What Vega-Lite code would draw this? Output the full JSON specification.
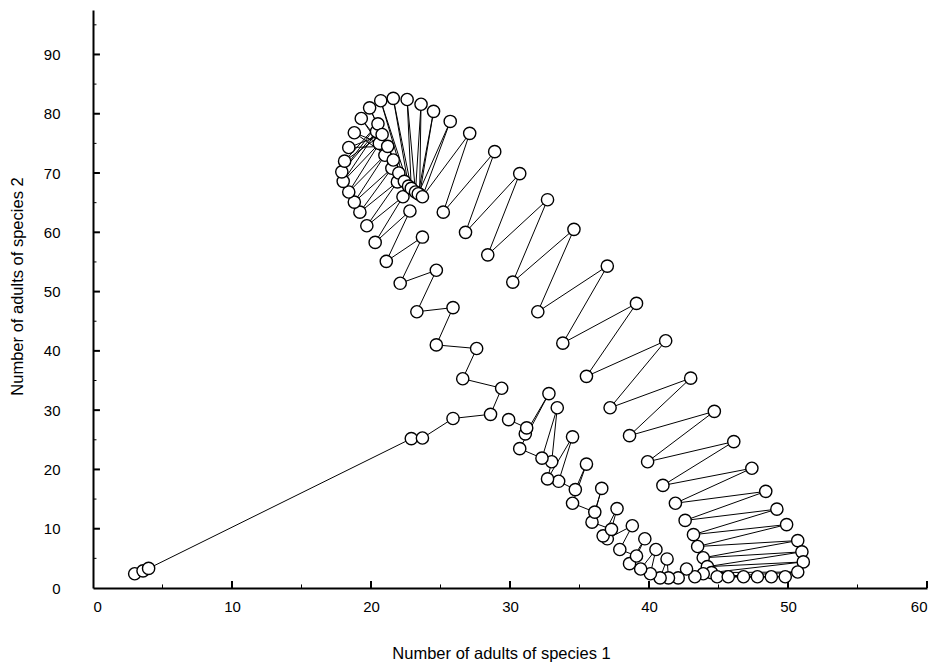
{
  "$schema": "https://vega.github.io/schema/vega-lite/v6.json",
  "autosize": {"type": "none"},
  "width": 834,
  "height": 578,
  "padding": {"left": 93, "top": 10, "right": 15, "bottom": 77},
  "background": "white",
  "config": {
    "view": {"stroke": null},
    "axis": {
      "domainColor": "black", "domainWidth": 2, "ticks": false,
      "grid": false, "labelFont": "Liberation Sans", "labelFontSize": 15,
      "labelColor": "black", "titleFont": "Liberation Sans", "titleFontSize": 16.5,
      "titleFontWeight": "normal", "titleColor": "black"
    }
  },
  "datasets": {
    "traj": [
    {"t":1,"s1":3.0,"s2":2.4},{"t":2,"s1":3.6,"s2":2.9},{"t":3,"s1":4.0,"s2":3.3},
    {"t":4,"s1":22.9,"s2":25.2},{"t":5,"s1":23.7,"s2":25.3},{"t":6,"s1":25.9,"s2":28.6},
    {"t":7,"s1":28.6,"s2":29.3},{"t":8,"s1":29.4,"s2":33.7},{"t":9,"s1":26.6,"s2":35.3},
    {"t":10,"s1":27.6,"s2":40.4},{"t":11,"s1":24.7,"s2":41.0},{"t":12,"s1":25.9,"s2":47.3},
    {"t":13,"s1":23.3,"s2":46.6},{"t":14,"s1":24.7,"s2":53.6},{"t":15,"s1":22.1,"s2":51.4},
    {"t":16,"s1":23.7,"s2":59.2},{"t":17,"s1":21.1,"s2":55.1},{"t":18,"s1":22.8,"s2":63.6},
    {"t":19,"s1":20.3,"s2":58.3},{"t":20,"s1":22.3,"s2":66.0},{"t":21,"s1":19.7,"s2":61.1},
    {"t":22,"s1":21.9,"s2":68.5},{"t":23,"s1":19.2,"s2":63.4},{"t":24,"s1":21.5,"s2":70.8},
    {"t":25,"s1":18.8,"s2":65.1},{"t":26,"s1":21.0,"s2":73.0},{"t":27,"s1":18.4,"s2":66.8},
    {"t":28,"s1":20.6,"s2":75.0},{"t":29,"s1":18.0,"s2":68.6},{"t":30,"s1":20.4,"s2":77.0},
    {"t":31,"s1":17.9,"s2":70.2},{"t":32,"s1":20.5,"s2":78.3},{"t":33,"s1":18.1,"s2":72.0},
    {"t":34,"s1":20.8,"s2":76.5},{"t":35,"s1":18.4,"s2":74.3},{"t":36,"s1":21.2,"s2":74.5},
    {"t":37,"s1":18.8,"s2":76.8},{"t":38,"s1":21.6,"s2":72.2},{"t":39,"s1":19.3,"s2":79.2},
    {"t":40,"s1":22.0,"s2":70.0},{"t":41,"s1":19.9,"s2":81.0},{"t":42,"s1":22.4,"s2":68.6},
    {"t":43,"s1":20.7,"s2":82.2},{"t":44,"s1":22.7,"s2":67.8},{"t":45,"s1":21.6,"s2":82.6},
    {"t":46,"s1":22.9,"s2":67.4},{"t":47,"s1":22.6,"s2":82.4},{"t":48,"s1":23.2,"s2":66.8},
    {"t":49,"s1":23.6,"s2":81.6},{"t":50,"s1":23.5,"s2":66.4},{"t":51,"s1":24.5,"s2":80.4},
    {"t":52,"s1":23.4,"s2":66.5},{"t":53,"s1":25.7,"s2":78.7},{"t":54,"s1":23.7,"s2":66.0},
    {"t":55,"s1":27.1,"s2":76.7},{"t":56,"s1":25.2,"s2":63.4},{"t":57,"s1":28.9,"s2":73.6},
    {"t":58,"s1":26.8,"s2":60.0},{"t":59,"s1":30.7,"s2":69.9},{"t":60,"s1":28.4,"s2":56.2},
    {"t":61,"s1":32.7,"s2":65.5},{"t":62,"s1":30.2,"s2":51.6},{"t":63,"s1":34.6,"s2":60.5},
    {"t":64,"s1":32.0,"s2":46.6},{"t":65,"s1":37.0,"s2":54.3},{"t":66,"s1":33.8,"s2":41.3},
    {"t":67,"s1":39.1,"s2":48.0},{"t":68,"s1":35.5,"s2":35.7},{"t":69,"s1":41.2,"s2":41.7},
    {"t":70,"s1":37.2,"s2":30.4},{"t":71,"s1":43.0,"s2":35.4},{"t":72,"s1":38.6,"s2":25.7},
    {"t":73,"s1":44.7,"s2":29.8},{"t":74,"s1":39.9,"s2":21.3},{"t":75,"s1":46.1,"s2":24.7},
    {"t":76,"s1":41.0,"s2":17.3},{"t":77,"s1":47.4,"s2":20.2},{"t":78,"s1":41.9,"s2":14.3},
    {"t":79,"s1":48.4,"s2":16.3},{"t":80,"s1":42.6,"s2":11.4},{"t":81,"s1":49.2,"s2":13.3},
    {"t":82,"s1":43.2,"s2":9.0},{"t":83,"s1":49.9,"s2":10.7},{"t":84,"s1":43.5,"s2":7.0},
    {"t":85,"s1":50.7,"s2":8.0},{"t":86,"s1":43.9,"s2":5.1},{"t":87,"s1":51.0,"s2":6.1},
    {"t":88,"s1":44.2,"s2":3.6},{"t":89,"s1":51.1,"s2":4.4},{"t":90,"s1":44.5,"s2":2.6},
    {"t":91,"s1":50.7,"s2":2.7},{"t":92,"s1":44.9,"s2":1.9},{"t":93,"s1":49.8,"s2":1.9},
    {"t":94,"s1":45.7,"s2":1.9},{"t":95,"s1":48.8,"s2":1.9},{"t":96,"s1":46.8,"s2":1.9},
    {"t":97,"s1":47.8,"s2":1.9},{"t":98,"s1":43.9,"s2":2.4},{"t":99,"s1":43.3,"s2":1.9},
    {"t":100,"s1":42.7,"s2":3.2},{"t":101,"s1":42.1,"s2":1.7},{"t":102,"s1":41.4,"s2":1.7},
    {"t":103,"s1":41.3,"s2":4.9},{"t":104,"s1":40.8,"s2":1.7},{"t":105,"s1":40.1,"s2":2.4},
    {"t":106,"s1":40.5,"s2":6.5},{"t":107,"s1":39.4,"s2":3.2},{"t":108,"s1":38.6,"s2":4.1},
    {"t":109,"s1":39.7,"s2":8.3},{"t":110,"s1":39.1,"s2":5.4},{"t":111,"s1":37.9,"s2":6.5},
    {"t":112,"s1":38.8,"s2":10.5},{"t":113,"s1":37.0,"s2":8.3},{"t":114,"s1":36.7,"s2":8.8},
    {"t":115,"s1":37.7,"s2":13.4},{"t":116,"s1":37.3,"s2":9.9},{"t":117,"s1":35.9,"s2":11.1},
    {"t":118,"s1":36.6,"s2":16.8},{"t":119,"s1":36.1,"s2":12.8},{"t":120,"s1":34.5,"s2":14.3},
    {"t":121,"s1":35.5,"s2":20.9},{"t":122,"s1":34.7,"s2":16.6},{"t":123,"s1":33.5,"s2":18.0},
    {"t":124,"s1":34.5,"s2":25.5},{"t":125,"s1":32.7,"s2":18.4},{"t":126,"s1":33.0,"s2":21.3},
    {"t":127,"s1":33.4,"s2":30.4},{"t":128,"s1":32.3,"s2":21.9},{"t":129,"s1":30.7,"s2":23.5},
    {"t":130,"s1":32.8,"s2":32.8},{"t":131,"s1":31.1,"s2":26.0},{"t":132,"s1":31.2,"s2":27.0},
    {"t":133,"s1":29.9,"s2":28.4}
    ],
    "xmajor": [{"v":10},{"v":20},{"v":30},{"v":40},{"v":50},{"v":60}],
    "xminor": [{"v":5},{"v":15},{"v":25},{"v":35},{"v":45},{"v":55}],
    "ymajor": [{"v":10},{"v":20},{"v":30},{"v":40},{"v":50},{"v":60},{"v":70},{"v":80},{"v":90}],
    "yminor": [{"v":5},{"v":15},{"v":25},{"v":35},{"v":45},{"v":55},{"v":65},{"v":75},{"v":85},{"v":95}]
  },
  "layer": [
    {"data": {"name": "traj"},
     "mark": {"type": "line", "color": "black", "strokeWidth": 1},
     "encoding": {
       "order": {"field": "t", "type": "quantitative"},
       "x": {"field": "s1", "type": "quantitative",
         "scale": {"domain": [0, 60], "nice": false, "zero": false},
         "axis": {"orient": "bottom", "values": [0,10,20,30,40,50,60], "labelPadding": 11,
           "title": "Number of adults of species 1", "titleX": 408, "titleY": 57}},
       "y": {"field": "s2", "type": "quantitative",
         "scale": {"domain": [0, 97.5], "nice": false, "zero": false},
         "axis": {"orient": "left", "values": [0,10,20,30,40,50,60,70,80,90], "labelPadding": 33,
           "title": "Number of adults of species 2", "titleX": -68, "titleY": 276}}
     }},
    {"data": {"name": "xmajor"},
     "mark": {"type": "rule", "color": "black", "strokeWidth": 2},
     "encoding": {"x": {"field": "v", "type": "quantitative"}, "y": {"datum": 0}, "y2": {"datum": 1.2}}},
    {"data": {"name": "xminor"},
     "mark": {"type": "rule", "color": "black", "strokeWidth": 1},
     "encoding": {"x": {"field": "v", "type": "quantitative"}, "y": {"datum": 0}, "y2": {"datum": 0.6}}},
    {"data": {"name": "ymajor"},
     "mark": {"type": "rule", "color": "black", "strokeWidth": 2},
     "encoding": {"y": {"field": "v", "type": "quantitative"}, "x": {"datum": 0}, "x2": {"datum": 0.5}}},
    {"data": {"name": "yminor"},
     "mark": {"type": "rule", "color": "black", "strokeWidth": 1},
     "encoding": {"y": {"field": "v", "type": "quantitative"}, "x": {"datum": 0}, "x2": {"datum": 0.25}}},
    {"data": {"name": "traj"},
     "mark": {"type": "point", "shape": "circle", "filled": true, "fill": "white", "stroke": "black", "strokeWidth": 1.4, "size": 150, "opacity": 1},
     "encoding": {
       "order": {"field": "t", "type": "quantitative"},
       "x": {"field": "s1", "type": "quantitative"},
       "y": {"field": "s2", "type": "quantitative"}
     }}
  ]
}
